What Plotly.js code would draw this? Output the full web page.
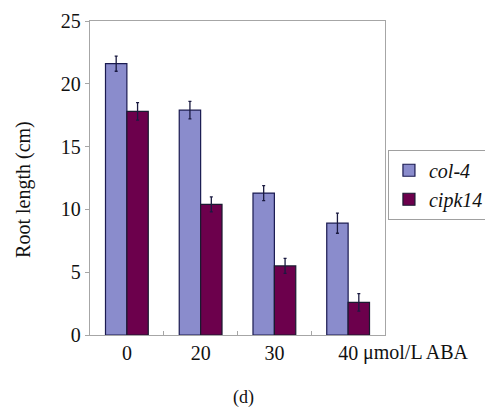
<!DOCTYPE html>
<html>
<head>
<meta charset="utf-8">
<script src="https://cdn.plot.ly/plotly-3.0.1.min.js"></script>
<style>html,body{margin:0;padding:0;background:#fff;}#chart{width:485px;height:412px;}</style>
</head>
<body>
<div id="chart"></div>
<script>
var categories = ["0", "20", "30", "40"];
var col4Values = [21.6, 17.9, 11.3, 8.9];
var col4Errors = [0.6, 0.7, 0.6, 0.8];
var cipk14Values = [17.8, 10.4, 5.5, 2.6];
var cipk14Errors = [0.7, 0.6, 0.6, 0.7];
var seriesNames = ["col-4", "cipk14"];
var yTicks = [0, 5, 10, 15, 20, 25];

var serif = "Liberation Serif";

var traces = [
  {
    type: "bar", name: seriesNames[0], x: categories, y: col4Values,
    marker: {color: "#8a8ccc", line: {color: "#1a1a50", width: 1.2}},
    error_y: {type: "data", array: col4Errors, visible: true, color: "#1a1a40", thickness: 1.3, width: 1.5}
  },
  {
    type: "bar", name: seriesNames[1], x: categories, y: cipk14Values,
    marker: {color: "#6c004c", line: {color: "#1a1a30", width: 1.2}},
    error_y: {type: "data", array: cipk14Errors, visible: true, color: "#1a1a40", thickness: 1.3, width: 1.5}
  }
];

var layout = {
  width: 485, height: 412,
  margin: {l: 90, r: 100, t: 21, b: 77, autoexpand: false},
  paper_bgcolor: "#fff", plot_bgcolor: "#fff",
  font: {family: serif},
  barmode: "group", bargap: 0.42, bargroupgap: 0,
  showlegend: true,
  legend: {
    x: 1.01, xanchor: "left", y: 0.59, yanchor: "top",
    bordercolor: "#a0a0a0", borderwidth: 1,
    font: {family: serif, size: 20, color: "#111", style: "italic"},
    tracegroupgap: 0, itemwidth: 20
  },
  xaxis: {
    type: "category",
    showline: true, linecolor: "#a6a6a6", linewidth: 1.2, mirror: true,
    ticks: "inside", tickson: "boundaries", ticklen: 4, tickcolor: "#a6a6a6",
    tickfont: {family: serif, size: 20, color: "#111"},
    showgrid: false, fixedrange: true
  },
  yaxis: {
    range: [0, 25], tickvals: yTicks,
    showline: true, linecolor: "#a6a6a6", linewidth: 1.2, mirror: true,
    ticks: "outside", ticklen: 4, tickcolor: "#a6a6a6",
    tickfont: {family: serif, size: 20, color: "#111"},
    showgrid: false, zeroline: false
  },
  annotations: [
    {text: "Root length (cm)", xref: "paper", yref: "paper", x: -0.224, y: 0.465,
     xanchor: "center", yanchor: "middle", textangle: -90, showarrow: false,
     font: {family: serif, size: 20, color: "#111"}},
    {text: "μmol/L ABA", xref: "paper", yref: "paper", x: 0.92, y: 0, yshift: -4,
     xanchor: "left", yanchor: "top", showarrow: false,
     font: {family: serif, size: 20, color: "#111"}},
    {text: "(d)", xref: "paper", yref: "paper", x: 0.519, y: 0, yshift: -50,
     xanchor: "center", yanchor: "top", showarrow: false,
     font: {family: serif, size: 18, color: "#111"}}
  ]
};

Plotly.newPlot("chart", traces, layout, {displayModeBar: false, staticPlot: true});
</script>
</body>
</html>
